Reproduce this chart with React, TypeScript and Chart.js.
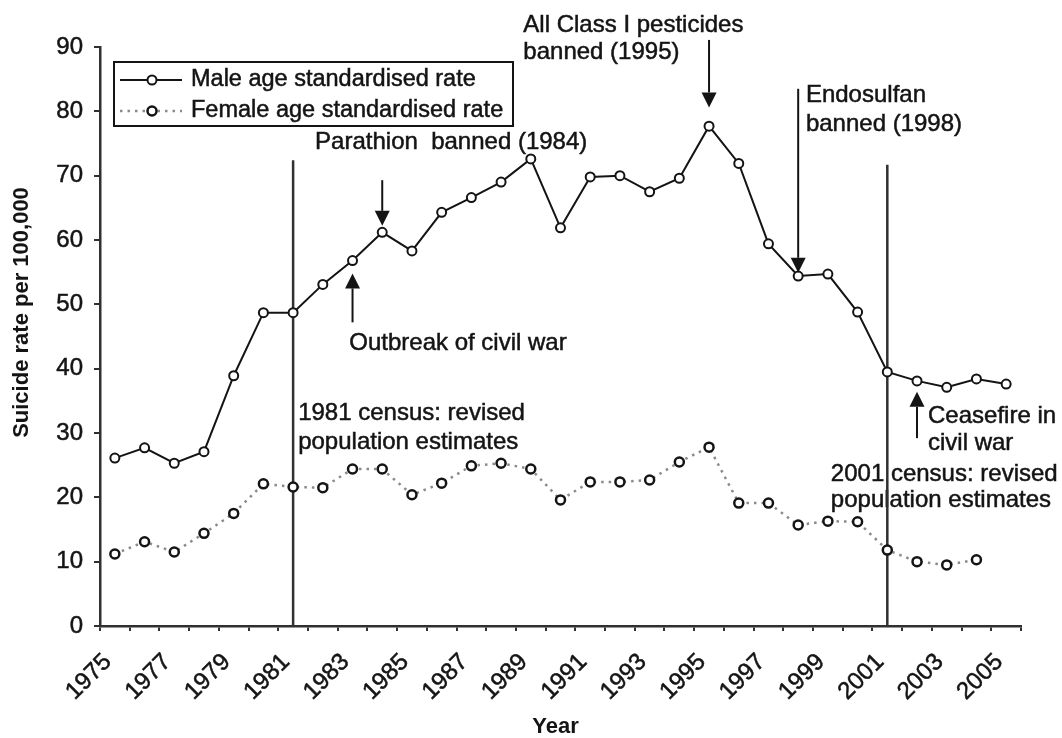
import React, { useEffect, useRef } from "react";
import { Chart, registerables } from "chart.js";

Chart.register(...registerables);

// ---------- data ----------
const years = [
  "1975", "1976", "1977", "1978", "1979", "1980", "1981", "1982", "1983", "1984",
  "1985", "1986", "1987", "1988", "1989", "1990", "1991", "1992", "1993", "1994",
  "1995", "1996", "1997", "1998", "1999", "2000", "2001", "2002", "2003", "2004", "2005",
];

const maleRate = [
  26.1, 27.7, 25.3, 27.1, 38.9, 48.7, 48.7, 53.1, 56.8, 61.2,
  58.3, 64.3, 66.6, 69.0, 72.6, 61.9, 69.8, 70.0, 67.5, 69.6,
  77.7, 71.9, 59.4, 54.4, 54.7, 48.8, 39.5, 38.1, 37.1, 38.4, 37.6,
];

const femaleRate = [
  11.2, 13.1, 11.5, 14.4, 17.5, 22.1, 21.6, 21.5, 24.4, 24.4,
  20.4, 22.2, 24.9, 25.3, 24.4, 19.6, 22.4, 22.4, 22.7, 25.5,
  27.8, 19.1, 19.1, 15.7, 16.3, 16.2, 11.8, 10.0, 9.5, 10.3, null,
];

const yTicks = [0, 10, 20, 30, 40, 50, 60, 70, 80, 90];

const seriesNames = ["Male age standardised rate", "Female age standardised rate"];

// vertical census lines: category + value where the line stops
const censusLines = [
  { year: "1981", top: 72.4 },
  { year: "2001", top: 71.7 },
];

// arrows: category, value of tail, value of tip
const arrows = [
  { year: "1984", from: 69.3, to: 62.2 },
  { year: "1983", from: 47.2, to: 54.8 },
  { year: "1995", from: 91.1, to: 80.6 },
  { year: "1998", from: 83.5, to: 54.9 },
  { year: "2002", from: 29.2, to: 36.4 },
];

// annotation texts: x in category index units, y in value units (left aligned, middle)
const notes = [
  { text: "Parathion  banned (1984)", x: 6.74, y: 75.1 },
  { text: "All Class I pesticides", x: 13.75, y: 93.3 },
  { text: "banned (1995)", x: 13.75, y: 89.1 },
  { text: "Endosulfan", x: 23.26, y: 82.5 },
  { text: "banned (1998)", x: 23.26, y: 77.9 },
  { text: "Outbreak of civil war", x: 7.89, y: 44.0 },
  { text: "1981 census: revised", x: 6.17, y: 33.0 },
  { text: "population estimates", x: 6.17, y: 28.6 },
  { text: "Ceasefire in", x: 27.37, y: 32.6 },
  { text: "civil war", x: 27.37, y: 28.4 },
  { text: "2001 census: revised", x: 24.1, y: 23.6 },
  { text: "population estimates", x: 24.1, y: 19.6 },
];

const yTitle = "Suicide rate per 100,000";
const xTitle = "Year";

// ---------- styles ----------
const FONT = '"Liberation Sans", Arial, Helvetica, sans-serif';
const INK = "#141414";
const AXIS = "#303030";
const FEMALE_LINE = "#8a8a8a";
const TEXT_STROKE = 0.5;

function drawArrow(ctx: CanvasRenderingContext2D, x: number, yTail: number, yTip: number) {
  const dir = yTip > yTail ? 1 : -1;
  const headLen = 15;
  const headHalf = 7.5;
  ctx.save();
  ctx.strokeStyle = INK;
  ctx.fillStyle = INK;
  ctx.lineWidth = 2;
  ctx.beginPath();
  ctx.moveTo(x, yTail);
  ctx.lineTo(x, yTip - dir * headLen);
  ctx.stroke();
  ctx.beginPath();
  ctx.moveTo(x, yTip);
  ctx.lineTo(x - headHalf, yTip - dir * headLen);
  ctx.lineTo(x + headHalf, yTip - dir * headLen);
  ctx.closePath();
  ctx.fill();
  ctx.restore();
}

function heavyText(ctx: CanvasRenderingContext2D, t: string, x: number, y: number) {
  ctx.fillText(t, x, y);
  ctx.strokeText(t, x, y);
}

const annotationPlugin = {
  id: "paperAnnotations",
  beforeDatasetsDraw(chart: any) {
    const { ctx, scales } = chart;
    const x = scales.x;
    const y = scales.y;
    ctx.save();
    ctx.fillStyle = INK;
    ctx.strokeStyle = INK;
    ctx.lineWidth = TEXT_STROKE;
    ctx.font = `24px ${FONT}`;
    ctx.textAlign = "left";
    ctx.textBaseline = "middle";
    for (const n of notes) {
      heavyText(ctx, n.text, x.getPixelForValue(n.x), y.getPixelForValue(n.y));
    }
    ctx.strokeStyle = AXIS;
    ctx.lineWidth = 2.5;
    for (const l of censusLines) {
      const px = x.getPixelForValue(years.indexOf(l.year));
      ctx.beginPath();
      ctx.moveTo(px, y.getPixelForValue(0));
      ctx.lineTo(px, y.getPixelForValue(l.top));
      ctx.stroke();
    }
    ctx.restore();
  },
  afterDatasetsDraw(chart: any) {
    const { ctx, scales, chartArea } = chart;
    const x = scales.x;
    const y = scales.y;
    for (const a of arrows) {
      drawArrow(ctx, x.getPixelForValue(years.indexOf(a.year)), y.getPixelForValue(a.from), y.getPixelForValue(a.to));
    }

    // legend box
    const bx = chartArea.left + 14;
    const by = chartArea.top + 15;
    const bw = 399;
    const bh = 64;
    ctx.save();
    ctx.fillStyle = "#ffffff";
    ctx.fillRect(bx, by, bw, bh);
    ctx.strokeStyle = INK;
    ctx.lineWidth = 2;
    ctx.strokeRect(bx, by, bw, bh);
    const rows = [by + 18, by + 49];
    // male sample
    ctx.setLineDash([]);
    ctx.lineWidth = 2;
    ctx.strokeStyle = INK;
    ctx.beginPath();
    ctx.moveTo(bx + 6, rows[0]);
    ctx.lineTo(bx + 68, rows[0]);
    ctx.stroke();
    ctx.beginPath();
    ctx.fillStyle = "#fff";
    ctx.arc(bx + 38, rows[0], 4.5, 0, Math.PI * 2);
    ctx.fill();
    ctx.stroke();
    // female sample
    ctx.strokeStyle = FEMALE_LINE;
    ctx.lineWidth = 2.5;
    ctx.setLineDash([2.5, 5]);
    ctx.beginPath();
    ctx.moveTo(bx + 6, rows[1]);
    ctx.lineTo(bx + 68, rows[1]);
    ctx.stroke();
    ctx.setLineDash([]);
    ctx.strokeStyle = INK;
    ctx.beginPath();
    ctx.arc(bx + 38, rows[1], 4.5, 0, Math.PI * 2);
    ctx.fill();
    ctx.stroke();
    ctx.fillStyle = INK;
    ctx.lineWidth = TEXT_STROKE;
    ctx.font = `23.5px ${FONT}`;
    ctx.textAlign = "left";
    ctx.textBaseline = "middle";
    heavyText(ctx, seriesNames[0], bx + 77, rows[0]);
    heavyText(ctx, seriesNames[1], bx + 77, rows[1]);

    // axis titles
    ctx.font = `bold 22px ${FONT}`;
    ctx.textAlign = "center";
    ctx.textBaseline = "middle";
    ctx.fillText(xTitle, (chartArea.left + chartArea.right) / 2 - 5, 727);
    ctx.translate(22, (chartArea.top + chartArea.bottom) / 2 - 24);
    ctx.rotate(-Math.PI / 2);
    ctx.fillText(yTitle, 0, 0);
    ctx.restore();
  },
};

export default function App() {
  const ref = useRef<HTMLCanvasElement>(null);

  useEffect(() => {
    if (!ref.current) return;
    const chart = new Chart(ref.current, {
      type: "line",
      data: {
        labels: years,
        datasets: [
          {
            label: seriesNames[0],
            data: maleRate,
            borderColor: INK,
            borderWidth: 2,
            pointRadius: 4.5,
            pointBorderWidth: 2,
            pointBorderColor: INK,
            pointBackgroundColor: "#ffffff",
            tension: 0,
          },
          {
            label: seriesNames[1],
            data: femaleRate,
            borderColor: FEMALE_LINE,
            borderWidth: 2.5,
            borderDash: [2.5, 5],
            pointRadius: 4.5,
            pointBorderWidth: 2.5,
            pointBorderColor: INK,
            pointBackgroundColor: "#ffffff",
            tension: 0,
            spanGaps: false,
          },
        ],
      },
      options: {
        animation: false,
        responsive: true,
        maintainAspectRatio: false,
        layout: { padding: { top: 47, right: 41, left: 0, bottom: 0 } },
        plugins: {
          legend: { display: false },
          tooltip: { enabled: false },
          title: { display: false },
        },
        scales: {
          x: {
            type: "category",
            offset: true,
            grid: {
              offset: true,
              drawOnChartArea: false,
              drawTicks: true,
              tickLength: 5,
              color: AXIS,
              lineWidth: 2,
            },
            border: { display: true, color: AXIS, width: 2.5 },
            ticks: {
              autoSkip: false,
              maxRotation: 45,
              minRotation: 45,
              padding: 17,
              labelOffset: -7,
              color: INK,
              textStrokeColor: INK,
              textStrokeWidth: TEXT_STROKE,
              font: { family: FONT, size: 24 },
              callback: (_v: any, i: number) => (i % 2 === 0 ? years[i] : ""),
            },
            afterFit: (s: any) => {
              s.height = 112;
            },
          },
          y: {
            min: 0,
            max: 90,
            afterBuildTicks: (s: any) => {
              s.ticks = yTicks.map((v) => ({ value: v }));
            },
            grid: {
              drawOnChartArea: false,
              drawTicks: true,
              tickLength: 6,
              color: AXIS,
              lineWidth: 2,
            },
            border: { display: true, color: AXIS, width: 2.5 },
            ticks: {
              padding: 11,
              color: INK,
              textStrokeColor: INK,
              textStrokeWidth: TEXT_STROKE,
              font: { family: FONT, size: 24 },
            },
            afterFit: (s: any) => {
              s.width = 100;
            },
          },
        },
      },
      plugins: [annotationPlugin],
    } as any);
    return () => chart.destroy();
  }, []);

  return (
    <div style={{ position: "fixed", left: 0, top: 0, width: 1062, height: 738, background: "#ffffff" }}>
      <canvas ref={ref} />
    </div>
  );
}
